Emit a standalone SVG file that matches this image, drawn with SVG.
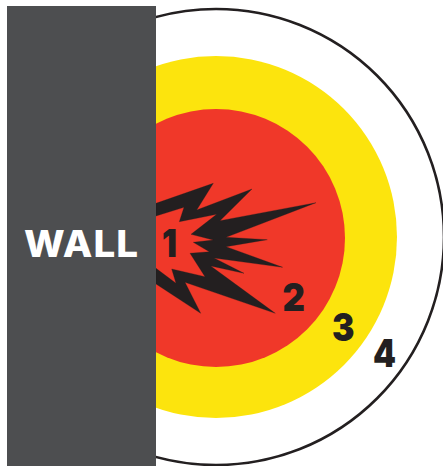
<svg xmlns="http://www.w3.org/2000/svg" width="443" height="466" viewBox="0 0 443 466">
<style>
.t{font-family:"Inter","Liberation Sans",sans-serif;font-weight:900;fill:#231f20;font-size:38px}
.w{font-family:"Inter","Liberation Sans",sans-serif;font-weight:800;fill:#fff;font-size:37px;letter-spacing:1px}
</style>
<defs><clipPath id="c"><rect x="156" y="0" width="287" height="466"/></clipPath></defs>
<rect width="443" height="466" fill="#fff"/>
<g id="ring4"><circle cx="216" cy="237" r="228" fill="#fff" stroke="#231f20" stroke-width="2.6" clip-path="url(#c)"/><text class="t" x="373" y="367" textLength="23" lengthAdjust="spacingAndGlyphs">4</text></g>
<g id="ring3"><circle cx="216" cy="237" r="181" fill="#fce40d"/><text class="t" x="332" y="341" textLength="22.500" lengthAdjust="spacingAndGlyphs">3</text></g>
<g id="ring2"><circle cx="216" cy="238" r="129" fill="#f03829"/><text class="t" x="282.500" y="311" textLength="22.500" lengthAdjust="spacingAndGlyphs">2</text></g>
<g id="ring1">
<polygon fill="#231f20" stroke="#231f20" stroke-width="0.3" points="156,203.300 213.300,183.300 196.700,210 252,189 220,220.700 316,202.700 226,237.300 267.300,239.700 226,246.700 282.700,267.300 214,258 244,273.300 210.700,266 275.300,313.300 185,282.300 200.700,313.300 156,284 156,268.300 176,283.300 171.700,269 205,276.700 190,253.300 209.300,251.700 193.300,242.300 213.300,240 191,234.300 216.700,214.300 179.300,221.700 184,207.300 156,216"/>
<text class="t" x="162" y="257" textLength="15" lengthAdjust="spacingAndGlyphs">1</text></g>
<g id="wall"><rect x="7" y="6" width="149" height="460" fill="#4d4e50"/><text class="w" x="24" y="257" textLength="115" lengthAdjust="spacingAndGlyphs">WALL</text></g>
<g id="connectors"></g>
</svg>
